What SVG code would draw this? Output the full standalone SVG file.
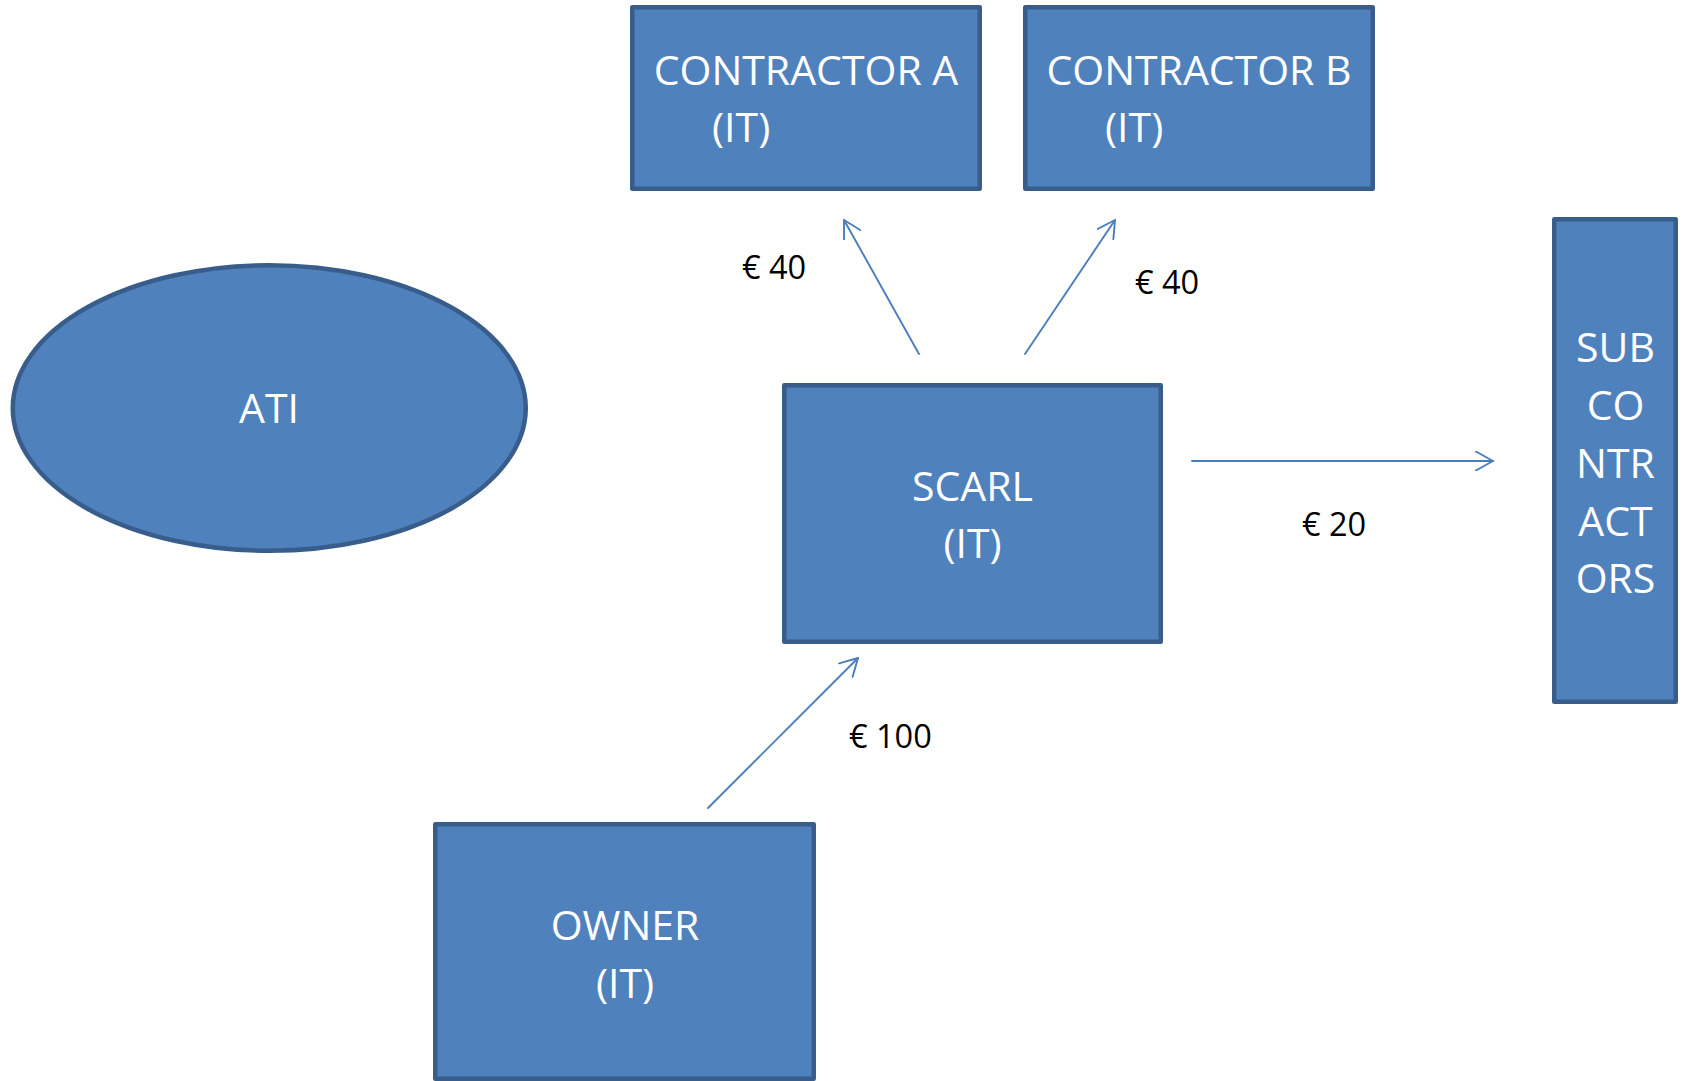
<svg xmlns="http://www.w3.org/2000/svg" width="1682" height="1081" viewBox="0 0 1682 1081">
<defs>
<style>
.node{fill:#4F81BD;stroke:#385D8A;stroke-width:4.5;stroke-linejoin:round}
.nt{font-family:"Open Sans","Liberation Sans",sans-serif;font-size:41px;fill:#FFFFFF}
.lbl{font-family:"Open Sans","Liberation Sans",sans-serif;font-size:32.5px;fill:#000000}
.conn{stroke:#4A7EBB;stroke-width:1.9;fill:none;stroke-linecap:round}
</style>
<marker id="arr" viewBox="0 0 20 20" refX="18" refY="10" markerWidth="20" markerHeight="20" markerUnits="userSpaceOnUse" orient="auto">
<path d="M0,0 L18,10 L0,20" fill="none" stroke="#4A7EBB" stroke-width="1.9" stroke-linecap="round" stroke-linejoin="round"/>
</marker>
</defs>
<rect width="1682" height="1081" fill="#FFFFFF"/>
<g id="contractor-a">
<rect class="node" x="632.25" y="7.25" width="347.5" height="181.5"/>
<text class="nt" x="806" y="85" text-anchor="middle">CONTRACTOR A</text>
<text class="nt" x="712" y="142">(IT)</text>
</g>
<g id="contractor-b">
<rect class="node" x="1025.25" y="7.25" width="347.5" height="181.5"/>
<text class="nt" x="1199" y="85" text-anchor="middle">CONTRACTOR B</text>
<text class="nt" x="1105" y="142">(IT)</text>
</g>
<g id="subcontractors">
<rect class="node" x="1554.25" y="219.25" width="121.5" height="482.5"/>
<text class="nt" text-anchor="middle"><tspan x="1615.5" y="361.5">SUB</tspan><tspan x="1615.5" y="419.5">CO</tspan><tspan x="1615.5" y="477.5">NTR</tspan><tspan x="1615.5" y="535.5">ACT</tspan><tspan x="1615.5" y="593">ORS</tspan></text>
</g>
<g id="ati">
<ellipse class="node" cx="269.25" cy="408" rx="256.5" ry="142.8"/>
<text class="nt" x="269" y="423" text-anchor="middle">ATI</text>
</g>
<g id="scarl">
<rect class="node" x="784.25" y="385.25" width="376.5" height="256.5"/>
<text class="nt" x="972.5" y="501" text-anchor="middle">SCARL</text>
<text class="nt" x="972.5" y="558" text-anchor="middle">(IT)</text>
</g>
<g id="owner">
<rect class="node" x="435.25" y="824.25" width="378.5" height="254.5"/>
<text class="nt" x="625" y="940" text-anchor="middle">OWNER</text>
<text class="nt" x="625" y="998" text-anchor="middle">(IT)</text>
</g>
<g id="connectors">
<line class="conn" x1="919" y1="354" x2="844" y2="220" marker-end="url(#arr)"/>
<line class="conn" x1="1025" y1="354" x2="1115" y2="220" marker-end="url(#arr)"/>
<line class="conn" x1="1192" y1="461" x2="1493" y2="461" marker-end="url(#arr)"/>
<line class="conn" x1="708" y1="808" x2="858" y2="658" marker-end="url(#arr)"/>
<text class="lbl" x="742" y="279">€ 40</text>
<text class="lbl" x="1135" y="294">€ 40</text>
<text class="lbl" x="1302" y="536">€ 20</text>
<text class="lbl" x="849" y="748">€ 100</text>
</g>
</svg>
